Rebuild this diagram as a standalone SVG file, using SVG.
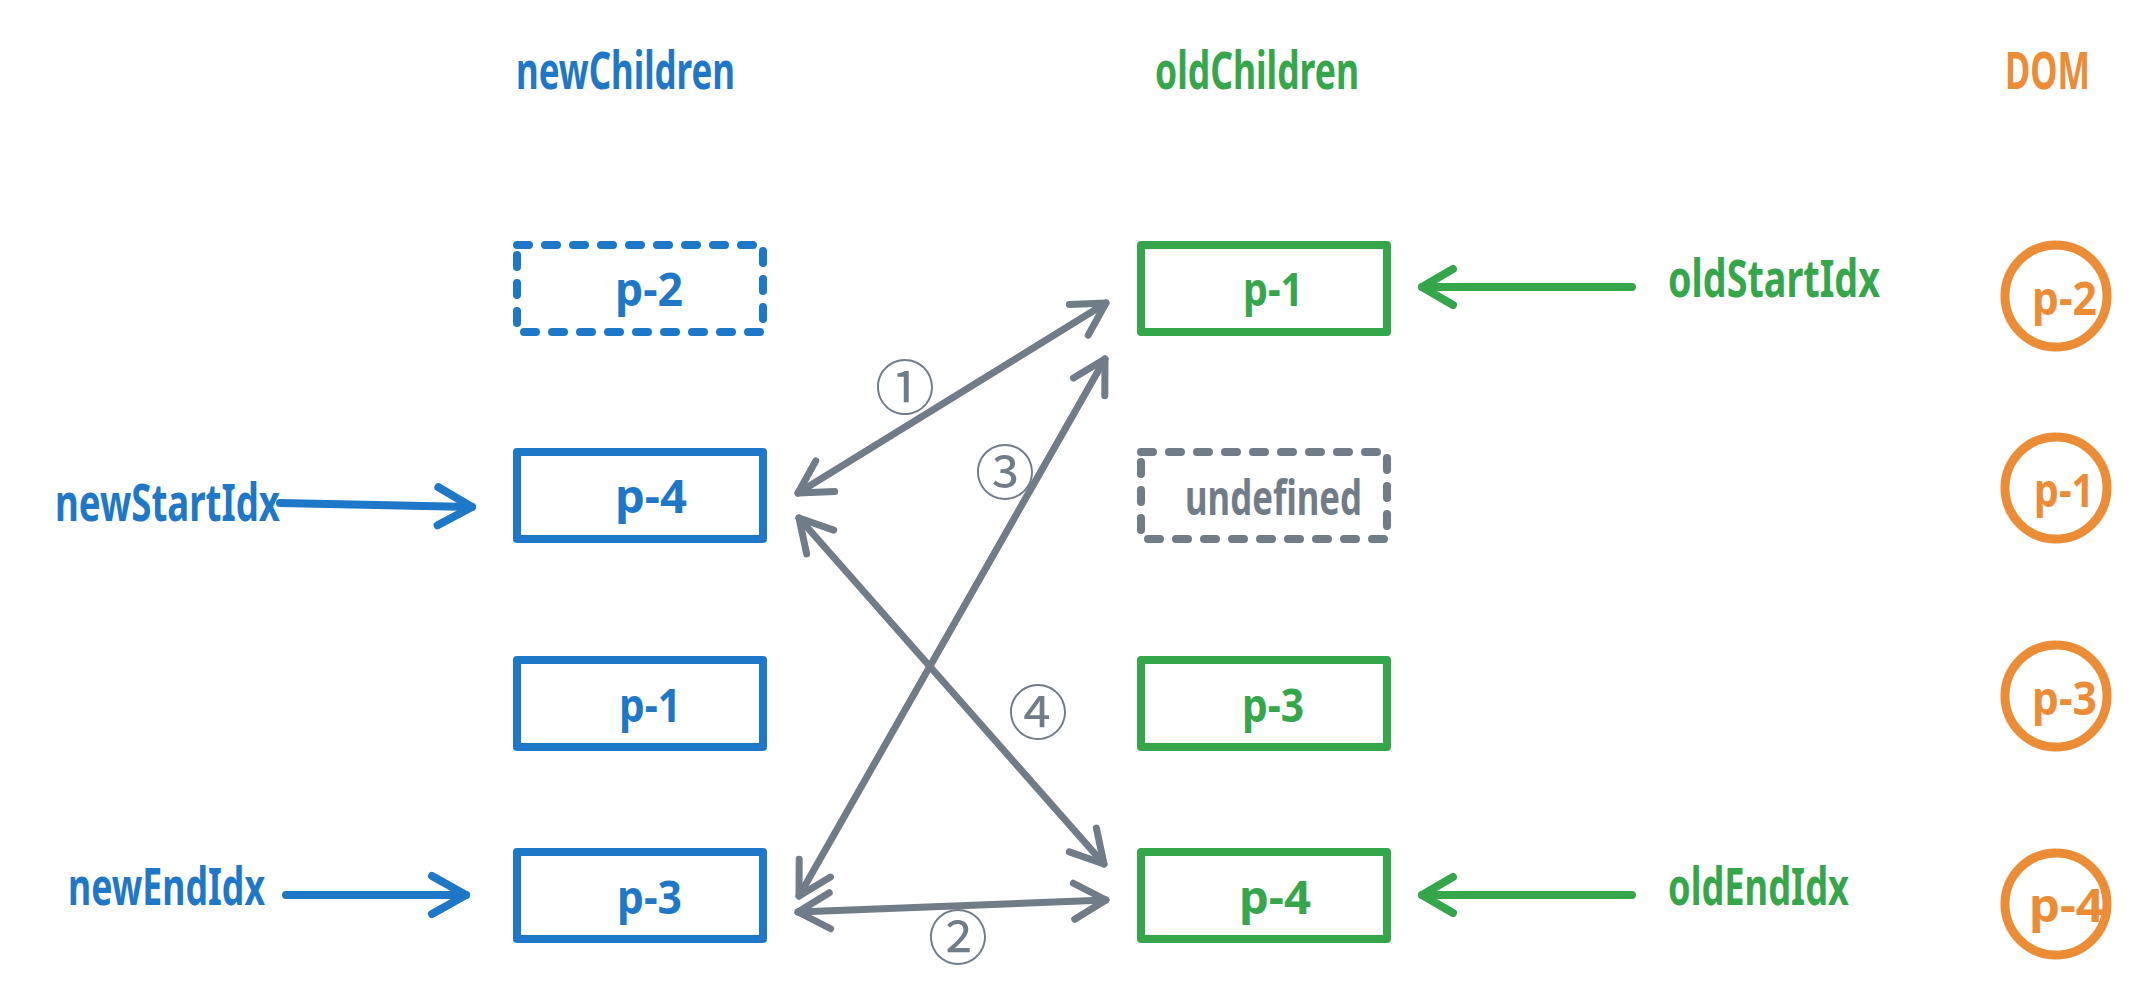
<svg xmlns="http://www.w3.org/2000/svg" width="2144" height="1004" viewBox="0 0 2144 1004">
  <style>
    .lbl { font-family: "Noto Sans", "Liberation Sans", sans-serif; font-weight: 700; }
    .blue { fill: #1f77c8; }
    .green { fill: #36a64b; }
    .orange { fill: #ec8c36; }
    .grey { fill: #717c89; }
    .box { fill: none; stroke-width: 8; stroke-linejoin: round; }
    .bbox { stroke: #1f77c8; }
    .gbox { stroke: #36a64b; }
    .dash { stroke-dasharray: 12 16; stroke-linecap: round; }
    .greybox { stroke: #717c89; }
    .dom { fill: none; stroke: #ec8c36; stroke-width: 9; }
    .num { font-family: "Noto Sans CJK SC", "Noto Sans", sans-serif; font-size: 60px; fill: #717c89; }
    .link { fill: none; stroke: #717c89; stroke-width: 7; stroke-linecap: round; marker-start: url(#hg); marker-end: url(#hg); }
    .ptr { fill: none; stroke-width: 8; stroke-linecap: round; }
  </style>
  <defs>
    <marker id="hg" viewBox="-45 -30 55 60" refX="0" refY="0" markerWidth="55" markerHeight="60" markerUnits="userSpaceOnUse" orient="auto-start-reverse">
      <path d="M-32,-18 L0,0 L-32,18" fill="none" stroke="#717c89" stroke-width="7" stroke-linecap="round" stroke-linejoin="round"/>
    </marker>
    <marker id="hb" viewBox="-45 -30 55 60" refX="0" refY="0" markerWidth="55" markerHeight="60" markerUnits="userSpaceOnUse" orient="auto">
      <path d="M-34,-19 L0,0 L-34,19" fill="none" stroke="#1f77c8" stroke-width="8" stroke-linecap="round" stroke-linejoin="round"/>
    </marker>
    <marker id="hgr" viewBox="-45 -30 55 60" refX="0" refY="0" markerWidth="55" markerHeight="60" markerUnits="userSpaceOnUse" orient="auto">
      <path d="M-31,-18 L0,0 L-31,18" fill="none" stroke="#36a64b" stroke-width="8" stroke-linecap="round" stroke-linejoin="round"/>
    </marker>
  </defs>

  <rect width="2144" height="1004" fill="#ffffff"/>

  <!-- titles -->
  <g id="title-new"><text class="lbl blue" x="516" y="89" font-size="52" textLength="219" lengthAdjust="spacingAndGlyphs">newChildren</text></g>
  <g id="title-old"><text class="lbl green" x="1155" y="89" font-size="52" textLength="204" lengthAdjust="spacingAndGlyphs">oldChildren</text></g>
  <g id="title-dom"><text class="lbl orange" x="2005" y="89" font-size="52" textLength="85" lengthAdjust="spacingAndGlyphs">DOM</text></g>

  <!-- newChildren column -->
  <g id="new-p2">
    <rect class="box bbox dash" x="517" y="245" width="246" height="87"/>
    <text class="lbl blue" x="615" y="306" font-size="46" textLength="68" lengthAdjust="spacingAndGlyphs">p-2</text>
  </g>
  <g id="new-p4">
    <rect class="box bbox" x="517" y="452" width="246" height="87"/>
    <text class="lbl blue" x="615" y="513" font-size="46" textLength="72" lengthAdjust="spacingAndGlyphs">p-4</text>
  </g>
  <g id="new-p1">
    <rect class="box bbox" x="517" y="660" width="246" height="87"/>
    <text class="lbl blue" x="619" y="722" font-size="46" textLength="62" lengthAdjust="spacingAndGlyphs">p-1</text>
  </g>
  <g id="new-p3">
    <rect class="box bbox" x="517" y="852" width="246" height="87"/>
    <text class="lbl blue" x="617" y="914" font-size="46" textLength="65" lengthAdjust="spacingAndGlyphs">p-3</text>
  </g>

  <!-- oldChildren column -->
  <g id="old-p1">
    <rect class="box gbox" x="1141" y="245" width="246" height="87"/>
    <text class="lbl green" x="1243" y="306" font-size="46" textLength="60" lengthAdjust="spacingAndGlyphs">p-1</text>
  </g>
  <g id="old-undefined">
    <rect class="box greybox dash" x="1141" y="452" width="246" height="87"/>
    <text class="lbl grey" x="1185" y="515" font-size="48" textLength="177" lengthAdjust="spacingAndGlyphs">undefined</text>
  </g>
  <g id="old-p3">
    <rect class="box gbox" x="1141" y="660" width="246" height="87"/>
    <text class="lbl green" x="1242" y="722" font-size="46" textLength="62" lengthAdjust="spacingAndGlyphs">p-3</text>
  </g>
  <g id="old-p4">
    <rect class="box gbox" x="1141" y="852" width="246" height="87"/>
    <text class="lbl green" x="1239" y="914" font-size="46" textLength="72" lengthAdjust="spacingAndGlyphs">p-4</text>
  </g>

  <!-- DOM column -->
  <g id="dom-p2">
    <circle class="dom" cx="2056" cy="296" r="51"/>
    <text class="lbl orange" x="2032" y="315" font-size="46" textLength="65" lengthAdjust="spacingAndGlyphs">p-2</text>
  </g>
  <g id="dom-p1">
    <circle class="dom" cx="2056" cy="488" r="51"/>
    <text class="lbl orange" x="2034" y="507" font-size="46" textLength="60" lengthAdjust="spacingAndGlyphs">p-1</text>
  </g>
  <g id="dom-p3">
    <circle class="dom" cx="2056" cy="696" r="51"/>
    <text class="lbl orange" x="2032" y="715" font-size="46" textLength="65" lengthAdjust="spacingAndGlyphs">p-3</text>
  </g>
  <g id="dom-p4">
    <circle class="dom" cx="2056" cy="904" r="51"/>
    <text class="lbl orange" x="2029" y="922" font-size="46" textLength="75" lengthAdjust="spacingAndGlyphs">p-4</text>
  </g>

  <!-- index pointers -->
  <g id="newStartIdx"><text class="lbl blue" x="55" y="521" font-size="52" textLength="225" lengthAdjust="spacingAndGlyphs">newStartIdx</text></g>
  <g id="newEndIdx"><text class="lbl blue" x="68" y="905" font-size="52" textLength="197" lengthAdjust="spacingAndGlyphs">newEndIdx</text></g>
  <g id="oldStartIdx"><text class="lbl green" x="1668" y="297" font-size="52" textLength="212" lengthAdjust="spacingAndGlyphs">oldStartIdx</text></g>
  <g id="oldEndIdx"><text class="lbl green" x="1668" y="905" font-size="52" textLength="181" lengthAdjust="spacingAndGlyphs">oldEndIdx</text></g>

  <!-- connectors -->
  <g id="connectors">
    <line class="ptr" stroke="#1f77c8" x1="280" y1="503" x2="472" y2="507" marker-end="url(#hb)"/>
    <line class="ptr" stroke="#1f77c8" x1="286" y1="895" x2="466" y2="895" marker-end="url(#hb)"/>
    <line class="ptr" stroke="#36a64b" x1="1632" y1="287" x2="1422" y2="287" marker-end="url(#hgr)"/>
    <line class="ptr" stroke="#36a64b" x1="1632" y1="895" x2="1422" y2="895" marker-end="url(#hgr)"/>

    <line class="link" x1="798" y1="493" x2="1106" y2="303"/>
    <line class="link" x1="798" y1="912" x2="1106" y2="900"/>
    <line class="link" x1="799" y1="896" x2="1105" y2="359"/>
    <line class="link" x1="799" y1="518" x2="1104" y2="864"/>

    <text class="num" x="905" y="410" text-anchor="middle">①</text>
    <text class="num" x="958" y="960" text-anchor="middle">②</text>
    <text class="num" x="1005" y="495" text-anchor="middle">③</text>
    <text class="num" x="1038" y="735" text-anchor="middle">④</text>
  </g>
</svg>
